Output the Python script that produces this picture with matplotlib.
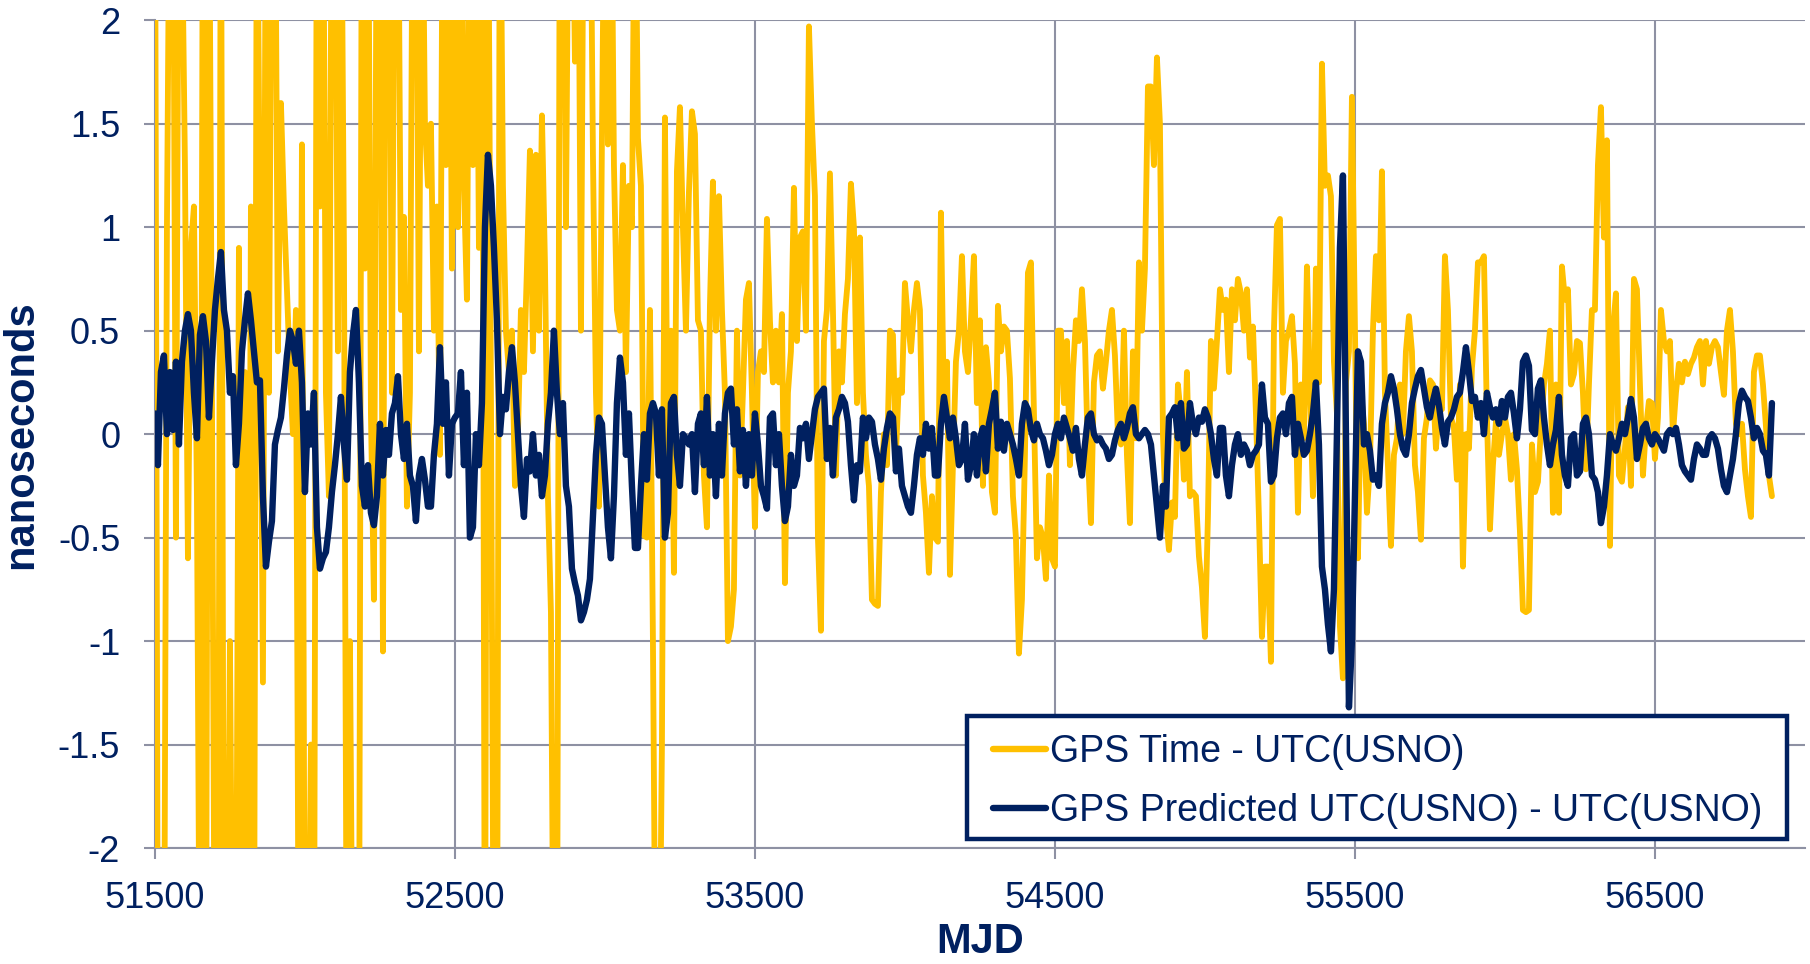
import numpy as np
import matplotlib
matplotlib.use("Agg")
import matplotlib.pyplot as plt
from matplotlib.patches import Rectangle

plt.rcParams['font.family'] = ['Liberation Sans', 'DejaVu Sans']

# segment start MJDs (10-day sampling inside each segment)
seg_start = [51500, 52420, 53320, 54220, 55120, 56020]
step_days = 10

# GPS Time - UTC(USNO)  (values beyond +/-2 are off-scale)
gps_a = [3,-3,-3,-3,1.0,3,3,-0.5,3,2.5,
         1.3,-0.6,0.9,1.1,-0.3,-3,3,-3,3,0.2,
         -3,-3,3,-3,-3,-1.0,-3,-3,0.9,-3,
         0.3,-3,1.1,-3,3,0.9,-1.2,3,0.2,3,
         3,0.4,1.6,1.1,0.7,0.3,0.0,0.6,-3,1.4,
         -3,-3,-1.5,-3,3,1.1,3,0.2,-0.3,3,
         3,0.4,3,0.9,-3,-1.0,-3,-3,-3,3,
         0.8,3,0.1,-0.8,3,3,-1.05,3,3,0.2,
         3,3,0.6,1.05,-0.35,0.2,3,3,0.4,3,
         1.5,1.2]
gps_b = [1.5,0.5,1.1,-0.1,3,1.3,3,0.8,3,1.0,
         3,1.2,0.65,3,1.3,3,0.9,3,-3,3,
         0.2,-3,-3,3,1.2,0.5,0.3,0.5,-0.25,0.0,
         0.6,0.3,0.8,1.37,0.4,1.35,0.5,1.54,0.83,-0.3,
         -0.86,-3,-3,3,3,1.0,3,3,1.8,3,
         0.5,3,3,3,1.35,0.2,-0.35,1.43,3,1.4,
         3,1.3,0.6,0.5,1.3,0.3,1.2,1.0,3,1.43,
         1.2,-0.49,-0.5,0.6,-1.0,-3,-3,-1.5,1.53,-0.3,
         0.5,-0.67,1.27,1.58,1.0,0.5,1.17,1.56,1.45,0.55]
gps_c = [0.5,-0.2,-0.45,0.62,1.22,0.5,1.15,0.6,0.2,-1.0,
         -0.93,-0.75,0.5,-0.2,0.2,0.65,0.73,0.2,-0.45,0.3,
         0.4,0.3,1.04,0.55,0.25,0.5,0.25,0.58,-0.72,0.2,
         0.4,1.19,0.45,0.95,0.98,0.5,1.97,1.5,1.15,-0.5,
         -0.95,0.45,0.6,1.26,0.6,-0.2,0.4,0.25,0.58,0.75,
         1.21,1.0,0.15,0.95,0.2,-0.1,-0.25,-0.8,-0.82,-0.83,
         -0.28,0.0,-0.15,0.5,0.48,-0.1,0.26,0.2,0.73,0.55,
         0.4,0.6,0.73,0.6,-0.2,-0.38,-0.67,-0.3,-0.5,-0.52,
         1.07,0.1,0.35,-0.68,-0.15,0.35,0.5,0.86,0.4,0.3]
gps_d = [0.55,0.86,0.15,0.55,-0.25,0.42,0.25,-0.28,-0.38,0.62,
         0.4,0.52,0.5,0.27,-0.3,-0.5,-1.06,-0.8,-0.1,0.78,
         0.83,0.1,-0.6,-0.45,-0.5,-0.7,-0.2,-0.6,-0.64,0.5,
         0.5,0.15,0.45,-0.15,0.3,0.55,0.45,0.7,0.45,-0.1,
         -0.43,0.25,0.38,0.4,0.22,0.35,0.5,0.6,0.38,0.0,
         -0.05,0.5,-0.1,-0.43,0.4,-0.02,0.83,0.5,0.8,1.68,
         1.68,1.3,1.82,1.5,0.0,-0.4,-0.56,-0.33,-0.4,0.24,
         0.08,-0.22,0.3,-0.3,-0.28,-0.3,-0.59,-0.74,-0.98,-0.4,
         0.45,0.22,0.45,0.7,0.6,0.65,0.3,0.7,0.55,0.75]
gps_e = [0.68,0.5,0.7,0.37,0.52,0.1,-0.4,-0.98,-0.64,-0.64,
         -1.1,0.5,1.01,1.04,0.2,0.45,0.5,0.57,0.34,-0.38,
         0.24,-0.02,0.81,0.22,-0.3,0.8,0.25,1.79,1.2,1.25,
         1.15,0.35,0.1,-0.93,-1.18,0.25,0.4,1.63,0.5,-0.6,
         0.2,0.05,-0.38,-0.15,0.5,0.86,0.55,1.27,0.2,-0.15,
         -0.54,-0.1,-0.02,0.24,0.0,0.4,0.57,0.4,-0.15,-0.28,
         -0.51,-0.02,0.08,0.26,0.24,-0.07,0.14,0.12,0.86,0.6,
         0.08,0.03,-0.22,0.24,-0.64,0.0,-0.07,0.32,0.5,0.83,
         0.83,0.86,0.08,-0.46,-0.15,0.06,-0.1,0.0,0.08,0.0]
gps_f = [-0.22,0.0,-0.17,-0.47,-0.85,-0.86,-0.85,-0.05,-0.28,-0.23,
         0.03,0.24,0.34,0.5,-0.38,0.24,-0.38,0.81,0.65,0.7,
         0.24,0.29,0.45,0.44,0.2,-0.17,0.24,0.6,0.6,1.3,
         1.58,0.95,1.42,-0.54,0.5,0.68,-0.2,-0.23,-0.07,0.13,
         -0.25,0.75,0.7,0.24,-0.2,0.03,0.16,0.15,-0.12,0.08,
         0.6,0.45,0.4,0.45,0.0,0.2,0.34,0.25,0.35,0.29,
         0.34,0.37,0.42,0.45,0.24,0.45,0.34,0.42,0.45,0.42,
         0.3,0.19,0.5,0.6,0.4,0.05,0.0,0.05,-0.17,-0.3,
         -0.4,0.3,0.38,0.38,0.24,0.04,-0.2,-0.3]

# GPS Predicted UTC(USNO) - UTC(USNO)
pred_a = [0.1,-0.15,0.3,0.38,0.0,0.3,0.02,0.35,-0.05,0.35,
          0.5,0.58,0.5,0.2,-0.02,0.48,0.57,0.45,0.08,0.35,
          0.6,0.75,0.88,0.6,0.5,0.2,0.28,-0.15,0.05,0.4,
          0.55,0.68,0.55,0.4,0.25,0.26,-0.3,-0.64,-0.52,-0.42,
          -0.05,0.02,0.08,0.22,0.38,0.5,0.45,0.34,0.5,0.25,
          -0.28,0.1,-0.05,0.2,-0.45,-0.65,-0.6,-0.57,-0.45,-0.28,
          -0.15,0.0,0.18,-0.05,-0.22,0.3,0.48,0.6,0.25,-0.25,
          -0.35,-0.15,-0.38,-0.44,-0.3,0.05,-0.2,0.02,-0.1,0.1,
          0.15,0.28,0.0,-0.12,0.05,-0.2,-0.25,-0.42,-0.2,-0.12,
          -0.22,-0.35]
pred_b = [-0.35,-0.1,0.05,0.42,0.05,0.25,-0.2,0.05,0.08,0.1,
          0.3,-0.15,0.2,-0.5,-0.45,0.0,-0.15,0.15,1.0,1.35,
          1.2,0.9,0.55,0.0,0.18,0.12,0.3,0.42,0.25,0.0,
          -0.25,-0.4,-0.12,-0.18,0.0,-0.2,-0.1,-0.3,-0.2,0.05,
          0.2,0.5,0.2,0.0,0.15,-0.25,-0.35,-0.65,-0.72,-0.78,
          -0.9,-0.86,-0.8,-0.7,-0.4,-0.1,0.08,0.05,-0.2,-0.45,
          -0.6,-0.3,0.15,0.37,0.25,-0.1,0.1,-0.25,-0.55,-0.55,
          -0.25,0.0,-0.22,0.1,0.15,0.1,-0.2,0.12,-0.5,-0.38,
          0.15,0.18,-0.1,-0.25,0.0,-0.02,-0.05,0.0,-0.28,0.05]
pred_c = [0.1,-0.15,0.18,-0.2,0.0,-0.3,0.05,-0.2,0.1,0.2,
          0.22,-0.05,0.12,-0.18,0.02,-0.25,0.0,-0.2,0.1,-0.05,
          -0.25,-0.3,-0.36,0.08,0.1,-0.15,0.0,-0.25,-0.42,-0.35,
          -0.1,-0.25,-0.2,0.03,-0.02,0.05,-0.12,0.0,0.12,0.18,
          0.2,0.22,-0.12,0.03,-0.2,0.08,0.12,0.18,0.15,0.06,
          -0.15,-0.32,-0.15,-0.18,0.08,-0.02,0.08,0.06,-0.05,-0.12,
          -0.22,-0.07,0.03,0.1,0.08,-0.18,-0.07,-0.25,-0.3,-0.35,
          -0.38,-0.25,-0.1,-0.02,-0.1,0.05,-0.07,0.03,-0.2,-0.2,
          0.05,0.18,0.08,-0.02,0.08,-0.02,-0.15,-0.12,0.05,-0.22]
pred_d = [-0.15,0.0,-0.2,-0.02,0.03,-0.18,0.05,0.12,0.2,-0.07,
          0.06,-0.08,0.05,0.0,-0.05,-0.12,-0.2,0.05,0.15,0.12,
          0.02,-0.03,0.05,0.0,-0.02,-0.08,-0.15,-0.1,0.0,0.05,
          -0.02,0.08,0.03,-0.02,-0.08,0.03,-0.12,-0.2,-0.05,0.08,
          0.1,0.0,-0.03,-0.02,-0.05,-0.07,-0.12,-0.1,-0.03,0.02,
          0.05,-0.02,0.03,0.1,0.13,0.0,-0.02,0.0,0.02,0.0,
          -0.05,-0.2,-0.35,-0.5,-0.25,-0.35,0.08,0.1,0.13,-0.02,
          0.15,-0.07,-0.05,0.15,0.05,0.0,0.08,0.06,0.12,0.08,
          0.0,-0.12,-0.2,0.03,0.03,-0.2,-0.3,-0.15,-0.05,0.0]
pred_e = [-0.1,-0.05,-0.08,-0.15,-0.1,-0.08,-0.05,0.24,0.08,0.05,
          -0.23,-0.2,-0.02,0.08,0.1,0.0,0.15,0.18,-0.1,0.05,
          -0.02,-0.1,-0.08,0.0,0.1,0.25,-0.05,-0.64,-0.75,-0.92,
          -1.05,-0.75,0.0,0.9,1.25,0.0,-1.32,-1.0,-0.3,0.4,
          0.35,-0.05,0.0,-0.08,-0.22,-0.2,-0.25,0.05,0.15,0.2,
          0.28,0.22,0.12,0.0,-0.07,-0.1,0.0,0.15,0.22,0.28,
          0.31,0.22,0.13,0.08,0.16,0.22,0.14,0.03,-0.05,0.06,
          0.08,0.12,0.18,0.2,0.3,0.42,0.3,0.16,0.18,0.08,
          0.15,0.0,0.2,0.13,0.08,0.12,0.05,0.16,0.08,0.18]
pred_f = [0.2,0.1,-0.02,0.12,0.35,0.38,0.33,0.02,0.0,0.22,
          0.26,0.08,-0.05,-0.15,-0.05,0.02,0.18,-0.1,-0.2,-0.25,
          -0.02,0.0,-0.2,-0.18,0.05,0.08,0.0,-0.2,-0.22,-0.28,
          -0.43,-0.35,-0.2,0.0,-0.05,-0.08,-0.02,0.05,0.0,0.08,
          0.17,0.08,-0.12,-0.05,0.03,0.05,-0.02,-0.05,0.0,-0.02,
          -0.05,-0.08,0.0,0.02,0.0,0.03,-0.05,-0.15,-0.18,-0.2,
          -0.22,-0.12,-0.05,-0.07,-0.1,-0.1,-0.02,0.0,-0.02,-0.07,
          -0.17,-0.25,-0.28,-0.2,-0.12,0.0,0.15,0.21,0.18,0.16,
          0.08,-0.02,0.03,0.0,-0.08,-0.1,-0.2,0.15]

x_ticks = [51500, 52500, 53500, 54500, 55500, 56500]
y_ticks = [-2, -1.5, -1, -0.5, 0, 0.5, 1, 1.5, 2]
y_tick_labels = ['-2', '-1.5', '-1', '-0.5', '0', '0.5', '1', '1.5', '2']

label_gps = 'GPS Time - UTC(USNO)'
label_pred = 'GPS Predicted UTC(USNO) - UTC(USNO)'


def build(segments):
    xs, ys = [], []
    for s0, seg in zip(seg_start, segments):
        xs.append(s0 + step_days * np.arange(len(seg)))
        ys.append(np.asarray(seg, dtype=float))
    return np.concatenate(xs), np.concatenate(ys)


x_gps, y_gps = build([gps_a, gps_b, gps_c, gps_d, gps_e, gps_f])
x_pred, y_pred = build([pred_a, pred_b, pred_c, pred_d, pred_e, pred_f])

YELLOW = '#FFC000'
NAVY = '#002060'
GRID = '#8E91A3'

fig = plt.figure(figsize=(18.10, 9.64), dpi=100)
ax = fig.add_axes([0.0856, 0.1203, 0.9116, 0.8587])

ax.plot(x_gps, y_gps, color=YELLOW, lw=4.2, solid_joinstyle='round',
        solid_capstyle='round', label=label_gps, zorder=3)
ax.plot(x_pred, y_pred, color=NAVY, lw=4.6, solid_joinstyle='round',
        solid_capstyle='round', label=label_pred, zorder=4)

ax.set_xlim(51500, 57000)
ax.set_ylim(-2, 2)
ax.set_xticks(x_ticks)
ax.set_yticks(y_ticks)
ax.set_yticklabels(y_tick_labels)
ax.set_axisbelow(True)
ax.grid(True, color=GRID, lw=1.5)

for side in ['top', 'right']:
    ax.spines[side].set_visible(False)
for side in ['left', 'bottom']:
    ax.spines[side].set_color(GRID)
    ax.spines[side].set_linewidth(1.5)

ax.tick_params(axis='both', colors=GRID, labelcolor=NAVY, labelsize=26,
               length=8, width=1.5, direction='out')
ax.tick_params(axis='y', pad=17)
ax.tick_params(axis='x', pad=16)

ax.set_xlabel('MJD', fontsize=30, fontweight='bold', color=NAVY, labelpad=4)
ax.set_ylabel('nanoseconds', fontsize=30, fontweight='bold', color=NAVY, labelpad=12)

# legend frame drawn as a separate rectangle
box = Rectangle((0.492, 0.011), 0.497, 0.1486, transform=ax.transAxes,
                facecolor='white', edgecolor=NAVY, linewidth=3.2, zorder=9,
                clip_on=False)
ax.add_patch(box)

leg = ax.legend(loc='center left', bbox_to_anchor=(0.508, 0.0805),
                borderaxespad=0, borderpad=0, fontsize=27, frameon=False,
                handlelength=1.4, handletextpad=0.12, labelspacing=0.62,
                labelcolor=NAVY)
for h in leg.get_lines():
    h.set_linewidth(4.6)
leg.set_zorder(10)

fig.savefig('out.png', dpi=100)
